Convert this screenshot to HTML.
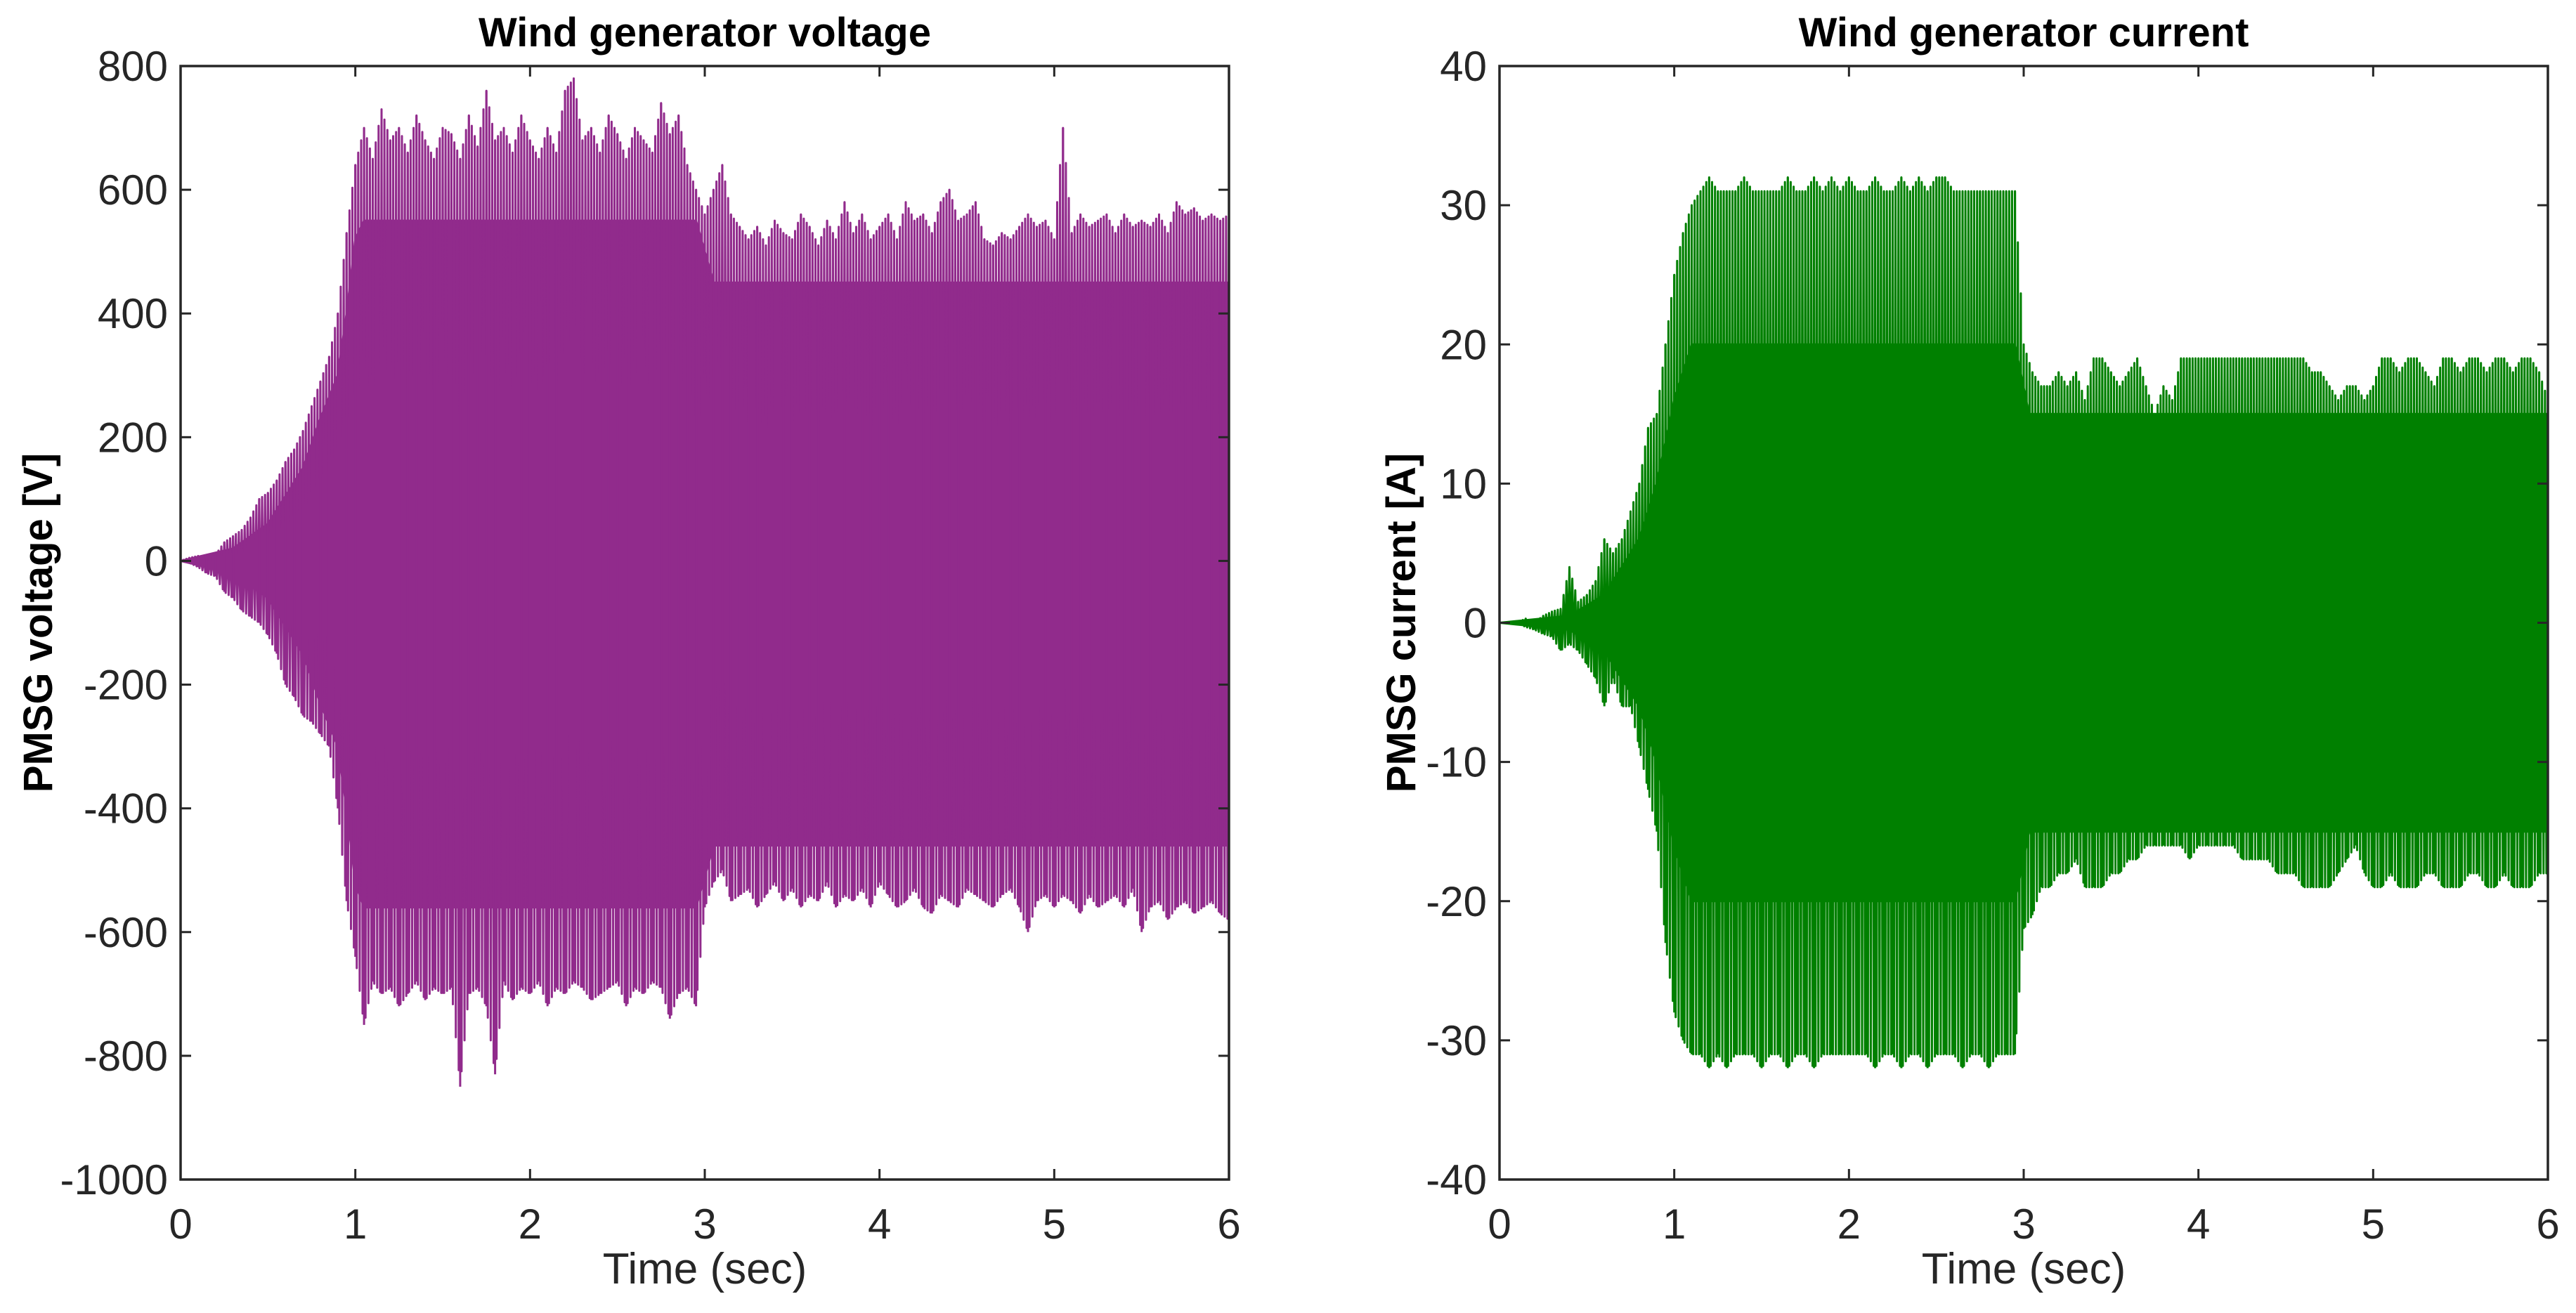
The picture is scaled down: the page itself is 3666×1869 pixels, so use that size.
<!DOCTYPE html>
<html><head><meta charset="utf-8"><style>
html,body{margin:0;padding:0;background:#fff;}
svg{display:block;font-family:"Liberation Sans",Arial,sans-serif;}
</style></head><body>
<svg id="fig" width="3666" height="1869" viewBox="0 0 3666 1869" xmlns="http://www.w3.org/2000/svg"></svg>
<script>
// ---- shared data ----
const timeTicks = [0,1,2,3,4,5,6];
const peakStep = 0.05;
// Voltage chart
const voltTicks = [-1000,-800,-600,-400,-200,0,200,400,600,800];
const voltUpper = [0,5,8,5,10,30,40,50,70,100,110,130,160,180,210,250,290,330,400,530,
 640,700,650,730,680,700,660,720,680,650,700,690,650,720,670,760,680,700,660,720,
 680,650,700,660,760,780,680,700,660,720,690,650,700,680,660,740,690,720,640,600,
 560,600,640,560,540,520,540,510,550,530,520,560,540,510,550,520,580,530,560,520,
 540,560,520,580,550,560,530,580,600,550,560,580,520,510,530,520,540,560,540,550,
 520,700,530,560,540,550,560,530,560,540,550,540,560,530,580,560,570,550,560,550,560];
const voltLower = [0,-3,-10,-20,-25,-50,-60,-80,-90,-100,-120,-150,-200,-220,-250,-260,-280,-300,-400,-550,
 -640,-750,-680,-700,-690,-720,-700,-680,-710,-690,-700,-690,-850,-700,-690,-720,-830,-680,-710,-690,
 -700,-680,-720,-690,-700,-680,-690,-710,-700,-690,-680,-720,-690,-700,-680,-690,-740,-700,-690,-720,
 -560,-520,-500,-550,-540,-530,-560,-540,-520,-550,-530,-560,-540,-550,-520,-560,-540,-550,-530,-560,
 -520,-540,-560,-550,-530,-560,-570,-540,-550,-560,-530,-540,-550,-560,-540,-530,-560,-600,-550,-540,
 -560,-540,-550,-570,-540,-560,-550,-540,-560,-530,-600,-560,-550,-580,-560,-550,-570,-560,-550,-570,-580];
const voltCoreT = [0,0.3,0.5,0.7,0.8,0.9,0.95,1.0,1.05,2.95,3.05,6];
const voltCoreUp = [0,20,60,150,230,300,400,520,550,550,450,450];
const voltCoreLow = [0,-20,-60,-150,-230,-300,-400,-520,-560,-560,-460,-460];
// Current chart
const currTicks = [-40,-30,-20,-10,0,10,20,30,40];
const currUpper = [0,0,0,0.3,0,0.5,0.8,1,4,1.5,2,3,6,5,6,8,10,14,15,20,
 25,28,30,31,32,31,31,31,32,31,31,31,31,32,31,31,32,31,32,31,
 32,31,31,32,31,31,32,31,32,31,32,32,31,31,31,31,31,31,31,31,
 20,18,17,17,18,17,18,16,19,19,18,17,18,19,17,15,17,16,19,19,
 19,19,19,19,19,19,19,19,19,19,19,19,19,18,18,17,16,17,17,16,
 17,19,19,18,19,19,18,17,19,19,18,19,19,18,19,19,18,19,19,18,16];
const currLower = [0,0,0,-0.3,-0.5,-0.8,-1,-2,-1.5,-2,-3,-4,-6,-4,-6,-6,-9,-12,-15,-23,
 -28,-30,-31,-31,-32,-31,-32,-31,-31,-31,-32,-31,-31,-32,-31,-31,-32,-31,-31,-31,
 -31,-31,-31,-32,-31,-31,-32,-31,-31,-32,-31,-31,-31,-32,-31,-31,-32,-31,-31,-31,
 -22,-21,-19,-19,-18,-18,-17,-19,-19,-19,-18,-18,-17,-17,-16,-16,-16,-16,-16,-17,
 -16,-16,-16,-16,-16,-17,-17,-17,-17,-18,-18,-18,-19,-19,-19,-19,-18,-17,-16,-18,
 -19,-19,-18,-19,-19,-19,-18,-18,-19,-19,-19,-18,-18,-19,-19,-18,-19,-19,-19,-18,-18];
const currCoreT = [0,0.4,0.6,0.8,0.9,1.0,1.1,2.95,3.03,6];
const currCoreUp = [0,0.5,2,6,10,16,20,20,15,15];
const currCoreLow = [0,-0.5,-2,-6,-10,-16,-20,-20,-15,-15];

const NS = "http://www.w3.org/2000/svg";
const svg = document.getElementById('fig');
function mk(tag, attrs, parent){
  const e = document.createElementNS(NS, tag);
  for (const k in attrs) e.setAttribute(k, attrs[k]);
  (parent||svg).appendChild(e);
  return e;
}

function drawChart(opt){
  const L=opt.left, R=opt.left+1492, T=94, B=1679;
  const xs = t => L + (t-0)/(6-0)*(R-L);
  const ys = v => B - (v-opt.ymin)/(opt.ymax-opt.ymin)*(B-T);
  const g = mk('g',{});
  
  
  mk('rect',{x:L,y:T,width:R-L,height:B-T,fill:'#fff'},g);
  const cid = opt.name+'-clip';
  const cp = mk('clipPath',{id:cid},g);
  mk('rect',{x:L,y:T,width:R-L,height:B-T},cp);
  const dg = mk('g',{'clip-path':'url(#'+cid+')'},g);
  let d='';
  opt.coreT.forEach((t,i)=>{ d += (i?'L':'M')+xs(t).toFixed(1)+','+ys(opt.coreUp[i]).toFixed(1); });
  for (let i=opt.coreT.length-1;i>=0;i--) d += 'L'+xs(opt.coreT[i]).toFixed(1)+','+ys(opt.coreLow[i]).toFixed(1);
  const core = mk('path',{d:d+'Z',fill:opt.color,stroke:opt.color,'stroke-width':3},dg);
  
  
  const sub = 6;
  let z='';
  const n = opt.upper.length;
  let k=0;
  for (let i=0;i<n-1;i++){
    for (let s=0;s<sub;s++){
      const f=s/sub, t=(i+f)*peakStep;
      const v = (k%2===0) ? opt.upper[i]*(1-f)+opt.upper[i+1]*f : opt.lower[i]*(1-f)+opt.lower[i+1]*f;
      z += (k?'L':'M')+xs(t).toFixed(1)+','+ys(v).toFixed(1);
      k++;
    }
  }
  z += 'L'+xs((n-1)*peakStep).toFixed(1)+','+ys(opt.upper[n-1]).toFixed(1);
  const sig = mk('path',{d:z,fill:'none',stroke:opt.color,'stroke-width':3,'stroke-linejoin':'round'},dg);
  
  
  let pv='';
  for (let i=0;i<n;i++){
    pv += 'M'+xs(i*peakStep).toFixed(1)+','+ys(opt.upper[i]).toFixed(1)+'L'+xs(i*peakStep).toFixed(1)+','+ys(opt.lower[i]).toFixed(1);
  }
  const pk = mk('path',{d:pv,fill:'none',stroke:opt.color,'stroke-width':3},dg);
  
  
  const box = mk('rect',{x:L,y:T,width:R-L,height:B-T,fill:'none',stroke:'#262626','stroke-width':3.5},g);
  
  
  timeTicks.forEach(t=>{
    const x=xs(t);
    mk('line',{x1:x,y1:B,x2:x,y2:B-15,stroke:'#262626','stroke-width':3},g);
    mk('line',{x1:x,y1:T,x2:x,y2:T+15,stroke:'#262626','stroke-width':3},g);
    const tx = mk('text',{x:x,y:1763,'font-size':60,fill:'#262626','text-anchor':'middle'},g);
    tx.textContent = t;
    
    
  });
  opt.ticks.forEach(v=>{
    const y=ys(v);
    mk('line',{x1:L,y1:y,x2:L+15,y2:y,stroke:'#262626','stroke-width':3},g);
    mk('line',{x1:R,y1:y,x2:R-15,y2:y,stroke:'#262626','stroke-width':3},g);
    const ty = mk('text',{x:L-18,y:y+21,'font-size':60,fill:'#262626','text-anchor':'end'},g);
    ty.textContent = v;
    
    
  });
  const title = mk('text',{x:(L+R)/2,y:66,'font-size':58,'font-weight':'bold',fill:'#000','text-anchor':'middle'},g);
  title.textContent = opt.title;
  
  
  const xl = mk('text',{x:(L+R)/2,y:1827,'font-size':62,fill:'#262626','text-anchor':'middle'},g);
  xl.textContent = 'Time (sec)';
  
  
  const yl = mk('text',{x:0,y:0,'font-size':58,'font-weight':'bold',fill:'#000','text-anchor':'middle',transform:'translate('+opt.ylx+','+((T+B)/2)+') rotate(-90)'},g);
  yl.textContent = opt.ylabel;
  
  
}

drawChart({name:'voltage-chart',left:257,ymin:-1000,ymax:800,ticks:voltTicks,upper:voltUpper,lower:voltLower,
  coreT:voltCoreT,coreUp:voltCoreUp,coreLow:voltCoreLow,color:'#912b8c',
  title:'Wind generator voltage',ylabel:'PMSG voltage [V]',ylx:74});
drawChart({name:'current-chart',left:2134,ymin:-40,ymax:40,ticks:currTicks,upper:currUpper,lower:currLower,
  coreT:currCoreT,coreUp:currCoreUp,coreLow:currCoreLow,color:'#008000',
  title:'Wind generator current',ylabel:'PMSG current [A]',ylx:2014});
</script>
</body></html>
